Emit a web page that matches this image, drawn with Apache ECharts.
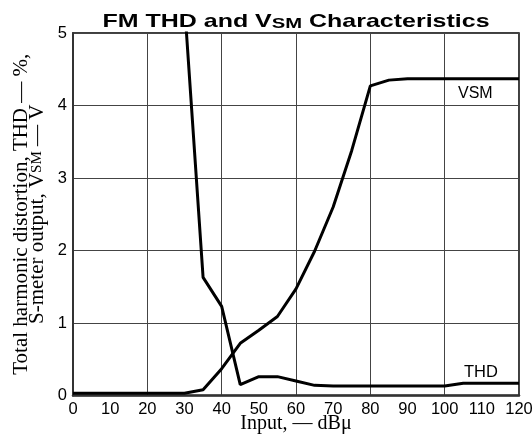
<!DOCTYPE html>
<html>
<head>
<meta charset="utf-8">
<script src="https://cdn.jsdelivr.net/npm/echarts@6/dist/echarts.min.js"></script>
<style>html,body{margin:0;padding:0;background:#fff}#c{width:532px;height:442px}</style>
</head>
<body>
<div id="c"></div>
<script>
var thdX = [30, 35, 40, 45, 50, 55, 60, 65, 70, 80, 90, 100, 105, 110, 120];
var thdY = [5.4, 1.63, 1.23, 0.15, 0.26, 0.26, 0.2, 0.14, 0.13, 0.13, 0.13, 0.13, 0.17, 0.17, 0.17];
var vsmX = [0, 10, 20, 30, 35, 40, 45, 50, 55, 60, 65, 70, 75, 80, 85, 90, 100, 110, 120];
var vsmY = [0.03, 0.03, 0.03, 0.03, 0.08, 0.37, 0.72, 0.9, 1.09, 1.47, 1.99, 2.6, 3.38, 4.27, 4.35, 4.37, 4.37, 4.37, 4.37];
var xTicks = [0, 10, 20, 30, 40, 50, 60, 70, 80, 90, 100, 110, 120];
var yTicks = [0, 1, 2, 3, 4, 5];

function pairs(xs, ys) { return xs.map(function (x, i) { return [x, ys[i]]; }); }

var chart = echarts.init(document.getElementById('c'), null, {renderer: 'canvas'});
var serif = 'Liberation Serif';
var sans = 'Liberation Sans';
chart.setOption({
  animation: false,
  backgroundColor: '#fff',
  grid: { left: 73, right: 13, top: 33, bottom: 46.5, outerBoundsMode: 'none', containLabel: false,
          show: true, borderColor: '#000', borderWidth: 1.5, backgroundColor: 'transparent' },
  xAxis: [{
    type: 'value', min: xTicks[0], max: xTicks[xTicks.length - 1], interval: 10,
    axisLine: { show: true, lineStyle: { color: '#333', width: 2.5 } },
    axisTick: { show: false },
    splitLine: { show: false },
    axisLabel: { fontFamily: sans, fontSize: 16.5, color: '#000', margin: 5 },
    name: 'Input, — dBμ', nameLocation: 'middle', nameGap: 18, nameMoveOverlap: false,
    nameTextStyle: { fontFamily: serif, fontSize: 20, color: '#000' }
  }, {
    type: 'value', min: 0, max: 120, interval: 20, position: 'bottom',
    axisLine: { show: false }, axisTick: { show: false }, axisLabel: { show: false },
    splitLine: { show: true, lineStyle: { color: '#444', width: 1 } }
  }],
  yAxis: {
    type: 'value', min: yTicks[0], max: yTicks[yTicks.length - 1], interval: 1,
    axisLine: { show: true, lineStyle: { color: '#333', width: 2 } },
    axisTick: { show: false },
    splitLine: { show: true, lineStyle: { color: '#444', width: 1 } },
    axisLabel: { fontFamily: sans, fontSize: 16.5, color: '#000', margin: 6 },
    name: 'Total harmonic distortion, THD — %,\nS-meter output, V{sub|SM} — V',
    nameLocation: 'middle', nameGap: 28, nameRotate: 90, nameMoveOverlap: false,
    nameTextStyle: {
      fontFamily: serif, fontSize: 21, color: '#000', lineHeight: 16, align: 'center',
      rich: { sub: { fontFamily: serif, fontSize: 15, color: '#000', lineHeight: 16, verticalAlign: 'bottom', padding: [4, 0, 0, 0] } }
    }
  },
  series: [{
    type: 'line', name: 'THD', data: pairs(thdX, thdY), xAxisIndex: 0,
    symbol: 'none', clip: true, lineStyle: { color: '#000', width: 3 }
  }, {
    type: 'line', name: 'VSM', data: pairs(vsmX, vsmY), xAxisIndex: 0,
    symbol: 'none', clip: true, lineStyle: { color: '#000', width: 3 }
  }],
  graphic: [
    { type: 'text', x: 296, y: 21.5, scaleX: 1.35, scaleY: 1, z: 100,
      style: {
        text: 'FM THD and V{sub|SM} Characteristics',
        fontFamily: sans, fontWeight: 'bold', fontSize: 18.5, fill: '#000',
        align: 'center', verticalAlign: 'middle',
        rich: { sub: { fontFamily: sans, fontWeight: 'bold', fontSize: 15, fill: '#000', verticalAlign: 'bottom', padding: [5, 0, 0, 0] } }
      } },
    { type: 'text', left: 458, top: 86, style: { text: 'VSM', font: '16px "Liberation Sans"', fill: '#000' } },
    { type: 'text', left: 464, top: 364, style: { text: 'THD', font: '16.5px "Liberation Sans"', fill: '#000' } }
  ]
});
</script>
</body>
</html>
